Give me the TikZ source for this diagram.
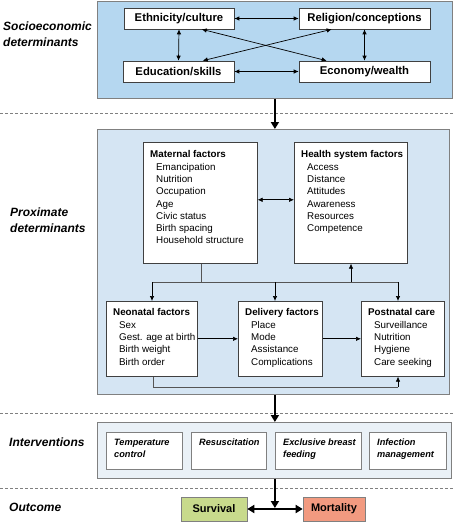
\documentclass[tikz,border=0pt]{standalone}
\usepackage{fontspec}
\setmainfont{Liberation Sans}
\usetikzlibrary{arrows.meta,calc}
\definecolor{topblue}{HTML}{B5D7F0}
\definecolor{proxblue}{HTML}{D5E5F3}
\definecolor{intblue}{HTML}{EAF1F7}
\definecolor{survgreen}{HTML}{C8DA8C}
\definecolor{mortred}{HTML}{F29A80}
\definecolor{bordergray}{HTML}{808080}
\definecolor{linegray}{HTML}{555555}
\begin{document}
\begin{tikzpicture}[x=1pt,y=-1pt,
  outerbox/.style={draw=bordergray, line width=0.8pt, inner sep=0pt, anchor=north west},
  sebox/.style={draw=black!75, fill=white, line width=0.6pt, inner sep=0pt, minimum height=21pt,
     font=\fontsize{11.3}{13}\selectfont\bfseries},
  fbox/.style={draw=black!75, fill=white, line width=0.6pt, inner sep=0pt, anchor=north west},
  ibox/.style={draw=bordergray, fill=white, line width=0.6pt, inner sep=0pt, anchor=north west,
     minimum height=37pt},
  ftext/.style={anchor=north west, inner sep=0pt, align=left, font=\fontsize{9.8}{12.2}\selectfont},
  itext/.style={anchor=north west, inner sep=0pt, align=left, font=\fontsize{9.2}{12}\selectfont\bfseries\itshape},
  lab/.style={anchor=west, inner sep=0pt, align=left, font=\fontsize{12}{16}\selectfont\bfseries\itshape},
  outbox/.style={draw=bordergray, line width=0.6pt, inner sep=0pt, minimum height=24pt,
     font=\fontsize{11}{13}\selectfont\bfseries},
  tarrow/.style={-{Latex[length=5pt,width=4.5pt]}, line width=0.7pt, draw=black},
  darrow/.style={{Latex[length=5pt,width=4.5pt]}-{Latex[length=5pt,width=4.5pt]}, line width=0.7pt, draw=black},
  bigarrow/.style={-{Triangle[length=7pt,width=8pt]}, line width=2.6pt, draw=black},
  bigdarrow/.style={{Triangle[length=7pt,width=8pt]}-{Triangle[length=7pt,width=8pt]}, line width=2.6pt, draw=black},
  conn/.style={line width=0.7pt, draw=linegray},
  sepline/.style={dashed, dash pattern=on 3pt off 2pt, line width=0.7pt, draw=gray}
]
\useasboundingbox (0,0) rectangle (455,522);

% separators
\coordinate (s1a) at (0,113); \coordinate (s1b) at (455,113);
\coordinate (s2a) at (0,413); \coordinate (s2b) at (455,413);
\coordinate (s3a) at (0,488); \coordinate (s3b) at (455,488);
\draw[sepline] (s1a) -- (s1b);
\draw[sepline] (s2a) -- (s2b);
\draw[sepline] (s3a) -- (s3b);

% left labels
\node[lab] (l1) at (3,34) {Socioeconomic\\determinants};
\node[lab] (l2) at (10,220) {Proximate\\determinants};
\node[lab] (l3) at (9,442) {Interventions};
\node[lab] (l4) at (9,507) {Outcome};

% socioeconomic block
\node[outerbox, fill=topblue, minimum width=355pt, minimum height=97pt] (se) at (97,1) {};
\node[sebox, minimum width=110pt] (eth) at (179,18.5) {Ethnicity/culture};
\node[sebox, minimum width=131pt] (rel) at (364.5,18.5) {Religion/conceptions};
\node[sebox, minimum width=111pt] (edu) at (178.5,71.5) {Education/skills};
\node[sebox, minimum width=131pt] (eco) at (364.5,71.5) {Economy/wealth};
\draw[darrow] (eth.east) -- (rel.west);
\draw[darrow] (edu.east) -- (eco.west);
\draw[darrow] (eth.south) -- (edu.north);
\draw[darrow] (rel.south) -- (eco.north);
\draw[darrow] ($(eth.south west)+(78,0)$) -- ($(eco.north west)+(28,0)$);
\draw[darrow] ($(rel.south west)+(33,0)$) -- ($(edu.north west)+(80,0)$);

% proximate block
\node[outerbox, fill=proxblue, minimum width=352pt, minimum height=265pt] (prox) at (97,129) {};
\draw[bigarrow] (se.south) -- (se.south |- prox.north);

\node[fbox, minimum width=114pt, minimum height=121pt] (mat) at (143,142) {};
\node[ftext] (matt) at ([shift={(7pt,-8.5pt)}]mat.north west)
  {\textbf{Maternal factors}\\[0.4pt]
   \hspace{6pt}Emancipation\\ \hspace{6pt}Nutrition\\ \hspace{6pt}Occupation\\ \hspace{6pt}Age\\
   \hspace{6pt}Civic status\\ \hspace{6pt}Birth spacing\\ \hspace{6pt}Household structure};
\node[fbox, minimum width=113pt, minimum height=121pt] (hs) at (294,142) {};
\node[ftext] (hst) at ([shift={(7pt,-8.5pt)}]hs.north west)
  {\textbf{Health system factors}\\[0.4pt]
   \hspace{6pt}Access\\ \hspace{6pt}Distance\\ \hspace{6pt}Attitudes\\ \hspace{6pt}Awareness\\
   \hspace{6pt}Resources\\ \hspace{6pt}Competence};
\draw[darrow] ([yshift=3pt]mat.east) -- ([yshift=3pt]hs.west);

\node[fbox, minimum width=91pt, minimum height=75pt] (neo) at (106,301) {};
\node[ftext] (neot) at ([shift={(7pt,-7.5pt)}]neo.north west)
  {\textbf{Neonatal factors}\\[0.4pt]
   \hspace{6pt}Sex\\ \hspace{6pt}Gest. age at birth\\ \hspace{6pt}Birth weight\\ \hspace{6pt}Birth order};
\node[fbox, minimum width=84pt, minimum height=75pt] (del) at (238,301) {};
\node[ftext] (delt) at ([shift={(7pt,-7.5pt)}]del.north west)
  {\textbf{Delivery factors}\\[0.4pt]
   \hspace{6pt}Place\\ \hspace{6pt}Mode\\ \hspace{6pt}Assistance\\ \hspace{6pt}Complications};
\node[fbox, minimum width=83pt, minimum height=75pt] (post) at (361,301) {};
\node[ftext] (postt) at ([shift={(7pt,-7.5pt)}]post.north west)
  {\textbf{Postnatal care}\\[0.4pt]
   \hspace{6pt}Surveillance\\ \hspace{6pt}Nutrition\\ \hspace{6pt}Hygiene\\ \hspace{6pt}Care seeking};

% bus
\coordinate (mdrop) at ($(mat.south west)+(58,0)$);
\coordinate (busL) at (152,282);
\coordinate (busR) at (398,282);
\coordinate (busD) at (275,282);
\coordinate (busH) at (351,282);
\draw[conn] (mdrop) -- (mdrop |- busL);
\draw[conn] (busL) -- (busR);
\draw[tarrow] (busL) -- (busL |- neo.north);
\draw[tarrow] (busD) -- (busD |- del.north);
\draw[tarrow] (busR) -- (busR |- post.north);
\draw[tarrow] (busH) -- (busH |- hs.south);

\draw[tarrow] (neo.east) -- (del.west);
\draw[tarrow] (del.east) -- (post.west);
\coordinate (loopL) at (153,387);
\coordinate (loopR) at (398,387);
\draw[conn] (loopL |- neo.south) -- (loopL) -- (loopR);
\draw[tarrow] (loopR) -- (loopR |- post.south);

% interventions
\node[outerbox, fill=intblue, minimum width=354pt, minimum height=56pt] (int) at (97,422) {};
\draw[bigarrow] (prox.south -| se.south) -- (se.south |- int.north);
\node[ibox, minimum width=76pt] (tc) at (106,432) {};
\node[itext] (tct) at ([shift={(8pt,-6.7pt)}]tc.north west) {Temperature\\control};
\node[ibox, minimum width=75pt] (res) at (191,432) {};
\node[itext] (rest) at ([shift={(8pt,-6.7pt)}]res.north west) {Resuscitation};
\node[ibox, minimum width=86pt] (ebf) at (275,432) {};
\node[itext] (ebft) at ([shift={(8pt,-6.7pt)}]ebf.north west) {Exclusive breast\\feeding};
\node[ibox, minimum width=77pt] (inf) at (369,432) {};
\node[itext] (inft) at ([shift={(8pt,-6.7pt)}]inf.north west) {Infection\\management};

% outcome
\node[outbox, fill=survgreen, minimum width=66pt] (surv) at (214,509) {Survival};
\node[outbox, fill=mortred, minimum width=62pt] (mort) at (334,509) {Mortality};
\draw[bigdarrow] (surv.east) -- (mort.west);
\coordinate (junc) at (se.south |- surv.east);
\draw[bigarrow, shorten >=1pt] (se.south |- int.south) -- (junc);
\end{tikzpicture}
\end{document}
